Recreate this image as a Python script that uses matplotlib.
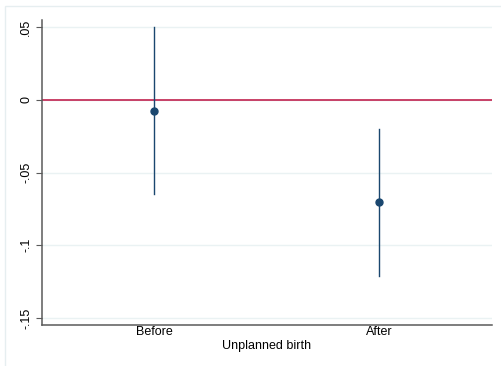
import matplotlib
matplotlib.use("Agg")
import matplotlib.pyplot as plt
from matplotlib.patches import Rectangle

plt.rcParams['font.family'] = ['Liberation Sans', 'DejaVu Sans']

# Estimates with 95% confidence intervals
categories = ["Before", "After"]
estimates = [-0.0076, -0.0705]
ci_low = [-0.065, -0.121]
ci_high = [0.0497, -0.0200]
yticks = [0.05, 0.0, -0.05, -0.10, -0.15]
ytick_labels = [".05", "0", "-.05", "-.1", "-.15"]

W, H = 502, 366
fig = plt.figure(figsize=(W / 100, H / 100), dpi=100)
fig.patch.set_facecolor("white")

# outer graph region frame
fig.patches.append(Rectangle((5 / W, -0.1), 1.2, 1 - 6 / H + 0.1,
                             transform=fig.transFigure, fill=False,
                             edgecolor="#e6eef0", linewidth=1.0))

ax = fig.add_axes([42 / W, 1 - 325 / H, (492 - 42) / W, (325 - 20) / H])
ax.set_facecolor("white")

xpos = list(range(1, len(categories) + 1))
navy = "#1a476f"
for x, est, lo, hi in zip(xpos, estimates, ci_low, ci_high):
    ax.plot([x, x], [lo, hi], color=navy, linewidth=1.0, zorder=3)
    ax.plot(x, est, "o", color=navy, markersize=5, zorder=4)

ax.axhline(0, color="#c1224f", linewidth=1.2, zorder=2)

ax.set_xlim(0.5, 2.5)
ax.set_ylim(-0.1548, 0.0548)
ax.set_xticks(xpos)
ax.set_xticklabels(categories, fontsize=9)
ax.set_yticks(yticks)
ax.set_yticklabels(ytick_labels, fontsize=9, rotation=90, va="center")
ax.grid(axis="y", color="#eaf2f3", linewidth=1.0, zorder=0)
ax.set_xlabel("Unplanned birth", fontsize=9, labelpad=1)

for s in ["top", "right"]:
    ax.spines[s].set_visible(False)
for s in ["left", "bottom"]:
    ax.spines[s].set_color("#5a5a5a")
    ax.spines[s].set_linewidth(1.1)
ax.tick_params(axis="y", length=4, color="#5a5a5a", pad=3)
ax.tick_params(axis="x", length=0, pad=1)

fig.savefig("out.png", dpi=100)
